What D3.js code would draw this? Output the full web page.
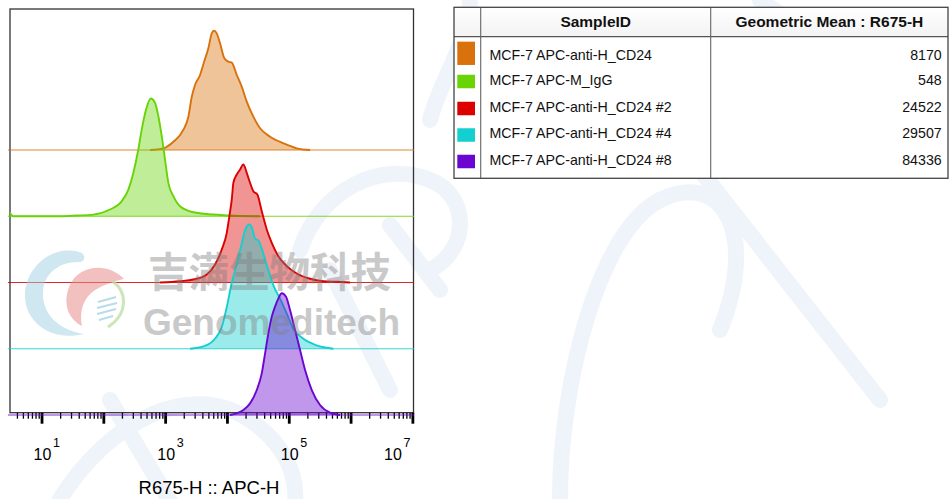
<!DOCTYPE html>
<html><head><meta charset="utf-8">
<script src="https://cdn.jsdelivr.net/npm/d3@7"></script>
<style>
html,body{margin:0;padding:0;background:#fff;}
svg{display:block;font-family:"Liberation Sans",Arial,sans-serif;}
</style></head><body>
<svg id="c" width="949" height="499"></svg>
<script>
// ---------------- data ----------------
const samples = ["MCF-7 APC-anti-H_CD24","MCF-7 APC-M_IgG","MCF-7 APC-anti-H_CD24 #2","MCF-7 APC-anti-H_CD24 #4","MCF-7 APC-anti-H_CD24 #8"];
const colors = ["#d9720c","#68d406","#dc0000","#14cfcf","#6a06d0"];
const geoMeans = [8170, 548, 24522, 29507, 84336];
const tableHeaders = ["SampleID", "Geometric Mean : R675-H"];
const decadeLabels = [1, 3, 5, 7];
const axisTitle = "R675-H :: APC-H";
const watermarkCN = "吉满生物科技";
const watermarkEN = "Genomeditech";
// histogram points: [R675-H intensity, % of mode]
const histOrange = [[571,0],[935,1.4],[1358,6.9],[1968,16.7],[2371,27.5],[2692,44.2],[3046,54.2],[3672,62.5],[4258,73.3],[5000,84.7],[5675,97.2],[6183,99.4],[6837,97.2],[7734,88.9],[9078,76.4],[10540,73.6],[11970,72.8],[14420,62.5],[17350,52.8],[20900,40.3],[26730,27.8],[34340,18.1],[49810,11.1],[81800,5.6],[134600,1.4],[221300,0]];
const histGreen = [[3.09,3],[3.5,0],[19.9,0],[37.2,0.6],[68.9,1.4],[128,5.6],[198.5,12.5],[254,22.2],[305.7,36.1],[368,55.6],[418,72.2],[491,88.9],[585,98.1],[687,94.4],[777,83.3],[881,66.7],[996,47.2],[1127,27.8],[1358,16.7],[1742,8.3],[2858,3.3],[6026,1.4],[9931,0.6],[34340,0]];
const histRed = [[826,0],[1742,1.1],[2858,2.5],[4710,6.7],[6412,15],[8236,27.5],[9931,41.4],[10940,55.3],[11970,69.2],[12700,83.1],[14420,90],[16300,94.2],[18420,98.3],[20900,91.4],[23640,83.1],[26730,76.1],[31040,73.3],[36560,59.4],[44040,44.2],[53090,33.1],[67920,21.9],[92890,13.6],[134600,7.5],[221300,3.1],[363100,1.1],[598400,0.6],[982000,0]];
const histCyan = [[2530,0],[4150,1.9],[6412,8.3],[8236,18.1],[9931,34.7],[11970,55],[13530,65.3],[15290,76.4],[17350,87.5],[19600,98.6],[22780,103.6],[25180,101.4],[28510,91.7],[32210,90.3],[38810,79.2],[46770,65.3],[56360,52.8],[72270,41.7],[92890,29.2],[118600,16.7],[172200,8.3],[283600,2.8],[527000,0]];
const histPurple = [[11220,0],[18420,4.2],[23640,9.7],[30350,20.8],[36560,34.7],[41390,51.4],[46770,68.1],[53090,81.9],[59980,90.3],[67920,97.2],[77090,101.4],[90360,98.6],[104900,87.5],[126500,70.8],[152400,54.2],[183600,37.5],[235600,20.8],[320800,8.3],[465600,1.9],[676000,0]];
const histograms = [histOrange, histGreen, histRed, histCyan, histPurple];

// ---------------- chart ----------------
const svg = d3.select("#c");
const frame = {left: 10, right: 413.5, top: 9, bottom: 412.7};

// faint background script strokes (watermark)
const bg = svg.append("g").attr("fill","none").attr("stroke","#e6ecf8").attr("stroke-width",16).attr("stroke-linecap","round").attr("opacity",0.6);
[
 "M60,499 C110,420 190,380 250,420 C300,455 300,499 290,520",
 "M110,400 L175,510",
 "M330,270 L390,390",
 "M300,250 C320,190 380,160 430,180 C470,195 470,250 430,270",
 "M390,225 L440,290",
 "M470,0 C470,40 440,80 430,120",
 "M560,499 C560,380 600,230 660,200 C720,170 760,230 720,330",
 "M700,170 L880,400",
 "M760,0 C800,30 860,60 930,120"
].forEach(d => bg.append("path").attr("d", d));

const x = d3.scaleLog().domain([Math.pow(10,0.49), Math.pow(10,7.01)]).range([frame.left, 413]);
const base = d3.scalePoint().domain(samples).range([150, 415]);
const h = d3.scaleLinear().domain([0, 100]).range([0, 120]);

svg.append("rect").attr("x", frame.left).attr("y", frame.top)
  .attr("width", frame.right - frame.left).attr("height", frame.bottom - frame.top)
  .attr("fill", "none").attr("stroke", "#333").attr("stroke-width", 1.3);

// axis
const minorTicks = [];
for (let e = 0; e <= 7; e++) for (let m = 2; m <= 9; m++) {
  const v = m * Math.pow(10, e);
  if (v >= x.domain()[0] && v <= x.domain()[1]) minorTicks.push(v);
}
const majorTicks = d3.range(1, 8).map(e => Math.pow(10, e));
const gMinor = svg.append("g").attr("transform", `translate(0,${frame.bottom})`)
  .call(d3.axisBottom(x).tickValues(minorTicks).tickSize(6).tickFormat(""));
gMinor.select(".domain").remove();
gMinor.selectAll(".tick line").attr("stroke", "#000").attr("stroke-width", 1.3);
const gMajor = svg.append("g").attr("transform", `translate(0,${frame.bottom})`)
  .call(d3.axisBottom(x).tickValues(majorTicks).tickSize(11).tickFormat(""));
gMajor.select(".domain").remove();
gMajor.selectAll(".tick line").attr("stroke", "#000").attr("stroke-width", 2.8);

const lbl = svg.append("g").attr("fill", "#000");
decadeLabels.forEach(e => {
  const cx = Math.min(x(Math.pow(10, e)) + 1, 393);
  lbl.append("text").attr("x", cx).attr("y", 460).attr("text-anchor", "middle")
    .attr("font-size", 16).text("10");
  lbl.append("text").attr("x", cx + 10.5).attr("y", 447).attr("font-size", 12.5).text(e);
});
svg.append("text").attr("x", 209).attr("y", 493.5).attr("text-anchor", "middle")
  .attr("font-size", 18.5).attr("fill", "#000").text(axisTitle);

// histograms
const hg = svg.append("g");
histograms.forEach((data, i) => {
  const b = base(samples[i]);
  const col = colors[i];
  hg.append("line").attr("x1", 8).attr("x2", 414).attr("y1", b).attr("y2", b)
    .attr("stroke", col).attr("stroke-width", 1).attr("stroke-opacity", 0.85);
  const area = d3.area().x(d => x(d[0])).y0(b).y1(d => b - h(d[1])).curve(d3.curveMonotoneX);
  const line = d3.line().x(d => x(d[0])).y(d => b - h(d[1])).curve(d3.curveMonotoneX);
  hg.append("path").attr("d", area(data)).attr("fill", col).attr("fill-opacity", 0.42);
  hg.append("path").attr("d", line(data)).attr("fill", "none").attr("stroke", col)
    .attr("stroke-width", 1.9).attr("stroke-linejoin", "round");
});

// watermark logo + text
const wm = svg.append("g");
wm.append("path").attr("d", "M79,252 C50,244 24,270 25,297 C26,322 50,342 84,334 C60,330 44,316 43,296 C42,276 56,262 79,262 C86,262 86,253 79,252 Z")
  .attr("fill", "#9fcfe2").attr("opacity", 0.5);
wm.append("path").attr("d", "M124,279 C108,262 78,264 69,287 C62,306 70,320 82,326 C79,312 83,298 95,290 C105,284 115,281 124,279 Z")
  .attr("fill", "#ea8c8c").attr("opacity", 0.55);
wm.append("path").attr("d", "M112,281 C128,292 128,314 108,327").attr("fill", "none")
  .attr("stroke", "#bfe0a8").attr("stroke-width", 3).attr("opacity", 0.8);
[[98,302,116,297],[97,308,117,303],[97,314,116,309],[99,320,113,316]].forEach(s =>
  wm.append("line").attr("x1", s[0]).attr("y1", s[1]).attr("x2", s[2]).attr("y2", s[3])
    .attr("stroke", "#a8d4e6").attr("stroke-width", 2.2).attr("opacity", 0.8));
wm.append("text").attr("x", 148).attr("y", 287).attr("font-size", 40.5).attr("font-weight", "bold")
  .attr("font-family", "'Noto Sans CJK SC',sans-serif").attr("fill", "#808080").attr("opacity", 0.42).text(watermarkCN);
wm.append("text").attr("x", 143).attr("y", 335).attr("font-size", 37).attr("font-weight", "bold")
  .attr("fill", "#808080").attr("opacity", 0.42).text(watermarkEN);

// ---------------- table ----------------
const tCols = [454, 480.7, 710.7, 948];
const headerTop = 7.3, headerBottom = 36.7, row1Bottom = 71.3, rowH = 26.75;
const tableBottom = row1Bottom + (samples.length - 1) * rowH;
const tg = svg.append("g");
const grad = svg.append("defs").append("linearGradient").attr("id", "hdr").attr("x1", 0).attr("x2", 0).attr("y1", 0).attr("y2", 1);
grad.append("stop").attr("offset", "0%").attr("stop-color", "#ffffff");
grad.append("stop").attr("offset", "100%").attr("stop-color", "#f3f3f3");
tg.append("rect").attr("x", tCols[0]).attr("y", headerTop).attr("width", tCols[3] - tCols[0])
  .attr("height", tableBottom - headerTop).attr("fill", "#fff");
tg.append("rect").attr("x", tCols[0]).attr("y", headerTop).attr("width", tCols[3] - tCols[0])
  .attr("height", headerBottom - headerTop).attr("fill", "url(#hdr)");
tg.append("text").attr("x", (tCols[1] + tCols[2]) / 2).attr("y", 27.2).attr("text-anchor", "middle")
  .attr("font-size", 15.5).attr("font-weight", "bold").attr("fill", "#111").text(tableHeaders[0]);
tg.append("text").attr("x", (tCols[2] + tCols[3]) / 2).attr("y", 27.2).attr("text-anchor", "middle")
  .attr("font-size", 15.5).attr("font-weight", "bold").attr("fill", "#111").text(tableHeaders[1]);
const textCenters = [55, 80.3, 106.7, 133.3, 160];
const swatchCenters = [53.3, 81.5, 108.5, 135, 161.5];
samples.forEach((s, i) => {
  const sh = i === 0 ? 23.3 : 13.5;
  tg.append("rect").attr("x", 457.3).attr("y", swatchCenters[i] - sh / 2).attr("width", 17.7).attr("height", sh)
    .attr("fill", colors[i]);
  tg.append("text").attr("x", 489.5).attr("y", textCenters[i] + 5.1).attr("font-size", 14.2).attr("fill", "#111").text(s);
  tg.append("text").attr("x", 941.7).attr("y", textCenters[i] + 5.1).attr("text-anchor", "end")
    .attr("font-size", 14.2).attr("fill", "#111").text(geoMeans[i]);
});
tg.append("line").attr("x1", tCols[0]).attr("x2", tCols[3]).attr("y1", headerBottom).attr("y2", headerBottom)
  .attr("stroke", "#555").attr("stroke-width", 1.2);
[tCols[1], tCols[2]].forEach(cx => tg.append("line").attr("x1", cx).attr("x2", cx)
  .attr("y1", headerTop).attr("y2", tableBottom).attr("stroke", "#666").attr("stroke-width", 1.1));
tg.append("rect").attr("x", tCols[0]).attr("y", headerTop).attr("width", tCols[3] - tCols[0])
  .attr("height", tableBottom - headerTop).attr("fill", "none").attr("stroke", "#444").attr("stroke-width", 1.3);
</script>
</body></html>
